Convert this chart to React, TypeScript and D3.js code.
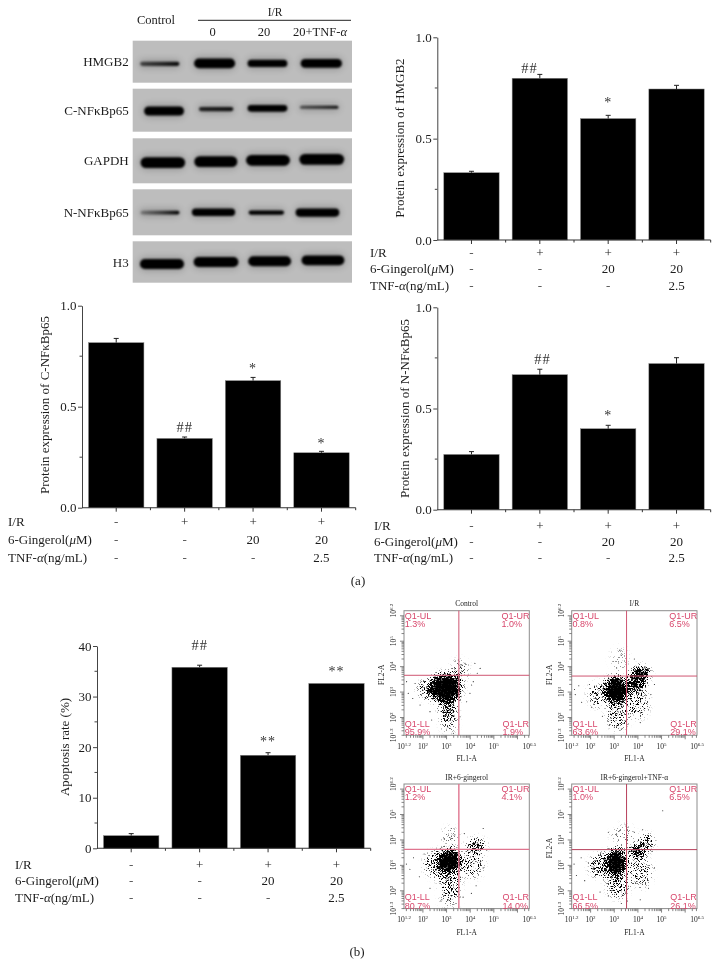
import { useEffect, useRef } from "react";
import * as d3 from "d3";

// group table under every bar chart
const irRow = ["-", "+", "+", "+"];
const gingerolRow = ["-", "-", "20", "20"];
const tnfRow = ["-", "-", "-", "2.5"];

// bar values and the top of their error bars
const hmgb2Values = [0.332, 0.798, 0.599, 0.745];
const hmgb2Errors = [0.339, 0.817, 0.615, 0.763];
const cNfValues = [0.817, 0.343, 0.629, 0.272];
const cNfErrors = [0.838, 0.35, 0.645, 0.279];
const nNfValues = [0.273, 0.667, 0.4, 0.722];
const nNfErrors = [0.287, 0.694, 0.417, 0.751];
const apopValues = [2.5, 35.8, 18.4, 32.6];
const apopErrors = [2.9, 36.2, 18.9, 32.6];

// significance marks: [bar position, text, y value]
const hmgb2Marks: [number, string, number][] = [[0.85, "##", 0.825], [2, "*", 0.655]];
const cNfMarks: [number, string, number][] = [[1, "##", 0.375], [2, "*", 0.665], [3, "*", 0.295]];
const nNfMarks: [number, string, number][] = [[1.04, "##", 0.72], [2, "*", 0.445]];
const apopMarks: [number, string, number][] = [[1, "##", 39.2], [2, "**", 20.3], [3, "**", 34]];

// western blot: [left %, right %, centre y %, thickness %, left darkness, right darkness] per lane
const blotNames = ["HMGB2", "C-NFκBp65", "GAPDH", "N-NFκBp65", "H3"];
const blotHmgb2 = [[3.4, 21.3, 55, 10, 0.6, 0.95], [28, 46.7, 54, 23, 1, 1], [52.4, 70.5, 54, 17, 1, 1], [76.6, 95.4, 54, 21, 1, 1]];
const blotCNf = [[5.2, 23.4, 52, 21, 1, 1], [30.2, 45.9, 47.3, 10, 0.8, 0.9], [52.4, 70.5, 45.7, 15.5, 1, 1], [76.3, 93.8, 43.4, 7, 0.55, 0.9]];
const blotGapdh = [[3.6, 23.9, 54, 24, 1, 1], [28.1, 47.7, 51.9, 24, 1, 1], [51.7, 71.7, 48.9, 24, 1, 1], [76, 96.4, 46.7, 24, 1, 1]];
const blotNNf = [[3.6, 21.3, 50.7, 8, 0.3, 1], [27, 46.7, 50, 16, 1, 1], [52.9, 69, 50.7, 9, 1, 1], [74.3, 94.2, 50.7, 17.5, 1, 1]];
const blotH3 = [[3.3, 23.4, 54.8, 24, 1, 1], [27.8, 48.2, 50, 24, 1, 1], [52.7, 72.2, 48.4, 24, 1, 1], [77, 96.5, 46, 24, 1, 1]];
const blotBands = [blotHmgb2, blotCNf, blotGapdh, blotNNf, blotH3];
const laneLabels = ["0", "20", "20+TNF-α"];

// flow plots, all in log10 units
const flowTitles = ["Control", "I/R", "IR+6-gingerol", "IR+6-gingerol+TNF-α"];
const flowUL = ["1.3%", "0.8%", "1.2%", "1.0%"];
const flowUR = ["1.0%", "6.5%", "4.1%", "6.5%"];
const flowLL = ["95.9%", "63.6%", "80.7%", "66.5%"];
const flowLR = ["1.9%", "29.1%", "14.0%", "26.1%"];
const flowGates = [[3.52, 3.66], [3.52, 3.63], [3.52, 3.63], [3.52, 3.62]];
// how dense the cloud looks: [log x, log y, radius x, radius y, density]
const flowControl = [[2.95, 3.15, 0.66, 0.56, 1], [3.25, 3.4, 0.32, 0.28, 1], [3.05, 2.5, 0.32, 0.52, 0.6], [2.4, 3.1, 0.58, 0.38, 0.4], [3.1, 1.9, 0.32, 0.45, 0.24], [3.55, 3.85, 0.35, 0.4, 0.2]];
const flowIR = [[3.09, 3.08, 0.5, 0.52, 1], [3.93, 3.41, 0.36, 0.44, 0.75], [4.15, 3.74, 0.32, 0.24, 1], [4, 2.56, 0.42, 0.55, 0.3], [3.16, 2.1, 0.42, 0.55, 0.32], [2.38, 2.9, 0.45, 0.45, 0.3], [3.23, 4.26, 0.35, 0.5, 0.1]];
const flowGingerol = [[3.12, 3.17, 0.46, 0.46, 1], [2.65, 3.04, 0.55, 0.5, 0.4], [3.15, 2.39, 0.42, 0.6, 0.36], [4.25, 3.76, 0.35, 0.27, 0.55], [4.06, 3.04, 0.48, 0.5, 0.26], [3.15, 4.09, 0.35, 0.4, 0.14], [3.15, 1.73, 0.42, 0.4, 0.14]];
const flowTnf = [[3.09, 3.11, 0.44, 0.52, 1], [2.52, 2.98, 0.55, 0.45, 0.4], [4, 3.57, 0.32, 0.26, 0.85], [4.36, 3.9, 0.27, 0.27, 0.55], [4.08, 2.72, 0.48, 0.58, 0.26], [3.16, 2.19, 0.42, 0.45, 0.36], [3.37, 4.16, 0.48, 0.4, 0.14]];
const flowClouds = [flowControl, flowIR, flowGingerol, flowTnf];
// stray events outside the clouds
const strayControl = [[1.31, 3.41], [1.38, 2.95], [1.57, 2.75], [1.67, 3.34], [1.88, 2.49], [2.3, 2.23], [2.37, 1.9], [3.5, 4.26], [3.64, 4.07], [3.78, 4.13], [4.2, 4.13], [4.42, 3.93], [4.3, 3.74], [4.06, 3.28], [3.99, 2.95], [3.85, 2.62], [3.57, 2.03], [3.15, 1.57], [2.79, 1.84], [3.29, 1.38], [3, 1.51], [3.92, 3.67], [4.13, 3.41]];
const strayIR = [[1.32, 3.1], [1.35, 2.9], [1.5, 3.25], [1.62, 2.6], [1.95, 3.3], [2.05, 2.4], [3.24, 4.65], [3.3, 4.45], [2.95, 4.2], [3.1, 3.95], [3.85, 4.3], [4.3, 3.95], [4.55, 3.85], [4.7, 3.3], [4.55, 2.9], [4.45, 2.3], [4.1, 1.8], [3.3, 1.55], [2.8, 1.7], [2.5, 2.05]];
const strayGingerol = [[1.3, 3.05], [1.45, 2.85], [1.6, 3.3], [1.85, 2.55], [2.05, 3.45], [2.3, 2.1], [3.2, 4.45], [3.35, 4.2], [2.9, 4.05], [3.75, 4.25], [4.55, 4.45], [4.7, 3.6], [4.55, 2.9], [4.25, 2.2], [3.7, 1.75], [3.4, 1.5], [2.8, 1.65], [4.05, 1.9]];
const strayTnf = [[1.3, 3.05], [1.4, 2.6], [1.6, 3.3], [1.75, 2.4], [2.75, 4.3], [5.05, 5.15], [3.1, 4.2], [3.5, 4.55], [3.85, 4.3], [4.2, 4.4], [4.6, 3.55], [4.7, 2.9], [4.45, 2.1], [4.1, 1.65], [3.55, 1.6], [2.75, 1.8], [2.4, 1.95], [3.3, 1.5]];
const flowStrays = [strayControl, strayIR, strayGingerol, strayTnf];
const flowXTicks = [[1.2, "1.2"], [2, "2"], [3, "3"], [4, "4"], [5, "5"], [6.5, "6.5"]] as [number, string][];
const flowYTicks = [[1.3, "1.3"], [2, "2"], [3, "3"], [4, "4"], [5, "5"], [6.2, "6.2"]] as [number, string][];

const SERIF = "'Liberation Serif', serif";
const SANS = "'Liberation Sans', sans-serif";
const INK = "#1c1c1c";

function rowLabel(g: any, x: number, y: number, before: string, greek: string, after: string) {
  const t = g.append("text").attr("x", x).attr("y", y).attr("font-size", 13).attr("fill", INK);
  t.append("tspan").text(before);
  if (greek) t.append("tspan").attr("font-style", "italic").text(greek);
  if (after) t.append("tspan").text(after);
}

function barPanel(svg: any, o: {
  left: number; right: number; top: number; bottom: number; max: number; yFormat: string;
  majors: number[]; minors: number[]; title: string; titleX: number; titleY: number;
  values: number[]; errors: number[]; marks: [number, string, number][];
  rowX: number; rows: number[];
}) {
  const g = svg.append("g");
  const x = d3.scaleBand<number>().domain([0, 1, 2, 3]).range([o.left, o.right]).paddingInner(0.19).paddingOuter(0.095);
  const y = d3.scaleLinear().domain([0, o.max]).range([o.bottom, o.top]);

  // Bars
  o.values.forEach((v, i) => {
    g.append("rect")
      .attr("x", x(i)!).attr("y", y(v))
      .attr("width", x.bandwidth()).attr("height", o.bottom - y(v))
      .attr("fill", "#000").attr("stroke", "#8a8a8a").attr("stroke-width", 0.5);
    const cx = x(i)! + x.bandwidth() / 2;
    if (o.errors[i] > v) {
      g.append("line").attr("x1", cx).attr("x2", cx).attr("y1", y(v)).attr("y2", y(o.errors[i]))
        .attr("stroke", "#222").attr("stroke-width", 1);
      g.append("line").attr("x1", cx - 2.5).attr("x2", cx + 2.5).attr("y1", y(o.errors[i])).attr("y2", y(o.errors[i]))
        .attr("stroke", "#222").attr("stroke-width", 1);
    }
  });

  // Y axis
  const yAxis = g.append("g").attr("transform", `translate(${o.left},0)`)
    .call(d3.axisLeft(y).tickValues(o.majors).tickSize(4).tickSizeOuter(0).tickPadding(1.5).tickFormat(d3.format(o.yFormat) as any));
  yAxis.selectAll("text").attr("font-size", 13).attr("font-family", SERIF).attr("fill", INK);
  yAxis.selectAll("line,path").attr("stroke", "#444");
  o.minors.forEach((v) => {
    g.append("line").attr("x1", o.left - 2.5).attr("x2", o.left).attr("y1", y(v)).attr("y2", y(v)).attr("stroke", "#444");
  });

  // X axis: tick at each bar, small tick between bars
  g.append("line").attr("x1", o.left).attr("x2", o.right).attr("y1", o.bottom).attr("y2", o.bottom).attr("stroke", "#333").attr("stroke-width", 1.1);
  x.domain().forEach((i) => {
    const cx = x(i)! + x.bandwidth() / 2;
    g.append("line").attr("x1", cx).attr("x2", cx).attr("y1", o.bottom).attr("y2", o.bottom + 4).attr("stroke", "#333");
    const edge = o.left + x.step() * (i + 1);
    g.append("line").attr("x1", edge).attr("x2", edge).attr("y1", o.bottom).attr("y2", o.bottom + 2.5).attr("stroke", "#333");
  });

  // Axis title
  g.append("text")
    .attr("transform", `translate(${o.titleX},${o.titleY}) rotate(-90)`)
    .attr("text-anchor", "middle").attr("font-size", 13).attr("fill", INK).text(o.title);

  // Significance marks
  o.marks.forEach(([i, txt, at]) => {
    g.append("text").attr("x", o.left + x.step() * (i + 0.5)).attr("y", y(at))
      .attr("text-anchor", "middle").attr("font-size", txt[0] === "#" ? 14.5 : 14).attr("letter-spacing", 1).attr("fill", "#333").text(txt);
  });

  // Group table
  rowLabel(g, o.rowX, o.rows[0] + 4, "I/R", "", "");
  rowLabel(g, o.rowX, o.rows[1] + 4, "6-Gingerol(", "μ", "M)");
  rowLabel(g, o.rowX, o.rows[2] + 4, "TNF-", "α", "(ng/mL)");
  [irRow, gingerolRow, tnfRow].forEach((row, r) => {
    row.forEach((txt, i) => {
      g.append("text").attr("x", x(i)! + x.bandwidth() / 2).attr("y", o.rows[r] + 4)
        .attr("text-anchor", "middle").attr("font-size", 13).attr("fill", txt === "-" ? "#555" : INK).text(txt);
    });
  });
}

function blotPanel(svg: any, defs: any) {
  const g = svg.append("g");
  const x = d3.scaleLinear().domain([0, 100]).range([132.7, 352]);
  const rowTops = [40.7, 88.7, 138.3, 189.3, 241.3];
  const rowBottoms = [82.7, 131.7, 183.3, 235.3, 282.7];

  defs.append("filter").attr("id", "band-soft").attr("x", "-10%").attr("y", "-60%").attr("width", "120%").attr("height", "220%")
    .append("feGaussianBlur").attr("stdDeviation", 0.9);
  defs.append("filter").attr("id", "band-halo").attr("x", "-20%").attr("y", "-150%").attr("width", "140%").attr("height", "400%")
    .append("feGaussianBlur").attr("stdDeviation", 3.5);

  blotNames.forEach((name, r) => {
    const y = d3.scaleLinear().domain([0, 100]).range([rowTops[r], rowBottoms[r]]);
    g.append("rect").attr("x", x(0)).attr("y", y(0)).attr("width", x(100) - x(0)).attr("height", y(100) - y(0)).attr("fill", "#bdbdbd");
    g.append("text").attr("x", 128.7).attr("y", (y(0) + y(100)) / 2 + 4.5)
      .attr("text-anchor", "end").attr("font-size", 13).attr("fill", INK).text(name);
    blotBands[r].forEach(([l, rt, cy, th, dl, dr], lane) => {
      const id = `band-${r}-${lane}`;
      const grad = defs.append("linearGradient").attr("id", id);
      grad.append("stop").attr("offset", "0%").attr("stop-color", "#050505").attr("stop-opacity", dl);
      grad.append("stop").attr("offset", "55%").attr("stop-color", "#050505").attr("stop-opacity", (dl + dr) / 2);
      grad.append("stop").attr("offset", "100%").attr("stop-color", "#050505").attr("stop-opacity", dr);
      const h = y(th) - y(0);
      g.append("rect").attr("x", x(l) - 1).attr("y", y(cy) - h / 2 - 2).attr("width", x(rt) - x(l) + 2).attr("height", h + 4)
        .attr("rx", h / 2 + 2).attr("fill", "#000").attr("opacity", 0.2).attr("filter", "url(#band-halo)");
      g.append("rect").attr("x", x(l)).attr("y", y(cy) - h / 2).attr("width", x(rt) - x(l)).attr("height", h)
        .attr("rx", h / 2).attr("fill", `url(#${id})`).attr("filter", "url(#band-soft)");
    });
  });

  // Lane header
  g.append("text").attr("x", 156).attr("y", 24).attr("text-anchor", "middle").attr("font-size", 12.5).attr("fill", INK).text("Control");
  g.append("text").attr("x", 275).attr("y", 16).attr("text-anchor", "middle").attr("font-size", 11.5).attr("fill", INK).text("I/R");
  g.append("line").attr("x1", 198).attr("x2", 351).attr("y1", 20.3).attr("y2", 20.3).attr("stroke", "#222");
  [212.7, 264, 320].forEach((cx, i) => {
    const t = g.append("text").attr("x", cx).attr("y", 35.5).attr("text-anchor", "middle").attr("font-size", 12.5).attr("fill", INK);
    const label = laneLabels[i];
    if (label.endsWith("α")) {
      t.append("tspan").text(label.slice(0, -1));
      t.append("tspan").attr("font-style", "italic").text("α");
    } else t.text(label);
  });
}

function flowPanel(svg: any, i: number, left: number, top: number, showYTitle: boolean, gateColor: string, gateWidth: number) {
  const W = 125.3, H = 124.6;
  const g = svg.append("g");
  const x = d3.scaleLinear().domain([1.2, 6.5]).range([left, left + W]);
  const y = d3.scaleLinear().domain([1.3, 6.2]).range([top + H, top]);

  // Density clouds go through the grain filter, which only adds texture
  const clip = `flow-clip-${i}`;
  svg.select("defs").append("clipPath").attr("id", clip)
    .append("rect").attr("x", left).attr("y", top).attr("width", W).attr("height", H);
  const inner = g.append("g").attr("clip-path", `url(#${clip})`);
  const cloud = inner.append("g").attr("filter", "url(#flow-grain)");
  flowClouds[i].forEach(([cx, cy, rx, ry, d]) => {
    cloud.append("ellipse").attr("cx", x(cx)).attr("cy", y(cy))
      .attr("rx", x(rx) - x(0)).attr("ry", y(0) - y(ry))
      .attr("fill", "#000").attr("fill-opacity", d);
  });
  flowStrays[i].forEach(([cx, cy]) => {
    inner.append("circle").attr("cx", x(cx)).attr("cy", y(cy)).attr("r", 0.55).attr("fill", "#222");
  });

  // Frame and log ticks
  g.append("rect").attr("x", left).attr("y", top).attr("width", W).attr("height", H).attr("fill", "none").attr("stroke", "#8c8c8c").attr("stroke-width", 1);
  const minors = d3.range(1, 7).flatMap((d) => d3.range(1, 10).map((m) => d + Math.log10(m)));
  minors.filter((v) => v >= 1.2 && v <= 6.5).forEach((v) => {
    const major = Number.isInteger(v);
    g.append("line").attr("x1", x(v)).attr("x2", x(v)).attr("y1", top + H).attr("y2", top + H + (major ? 4 : 2.5)).attr("stroke", "#666").attr("stroke-width", 0.8);
  });
  minors.filter((v) => v >= 1.3 && v <= 6.2).forEach((v) => {
    const major = Number.isInteger(v);
    g.append("line").attr("x1", left).attr("x2", left - (major ? 4 : 2.5)).attr("y1", y(v)).attr("y2", y(v)).attr("stroke", "#666").attr("stroke-width", 0.8);
  });

  // Gate lines
  const [gx, gy] = flowGates[i];
  g.append("line").attr("x1", x(gx)).attr("x2", x(gx)).attr("y1", top).attr("y2", top + H).attr("stroke", gateColor).attr("stroke-width", gateWidth);
  g.append("line").attr("x1", left).attr("x2", left + W).attr("y1", y(gy)).attr("y2", y(gy)).attr("stroke", gateColor).attr("stroke-width", gateWidth);

  // Quadrant texts
  const corner = (tx: number, ty: number, name: string, pct: string) => {
    [name, pct].forEach((s, k) => {
      g.append("text").attr("x", tx).attr("y", ty + k * 8.4).attr("font-family", SANS).attr("font-size", 9).attr("fill", "#d8476c").text(s);
    });
  };
  corner(left + 0.8, top + 8, "Q1-UL", flowUL[i]);
  corner(left + 97.6, top + 8, "Q1-UR", flowUR[i]);
  corner(left + 0.8, top + 116.2, "Q1-LL", flowLL[i]);
  corner(left + 98.6, top + 116.2, "Q1-LR", flowLR[i]);

  // Titles
  g.append("text").attr("x", left + W / 2).attr("y", top - 4.5).attr("text-anchor", "middle").attr("font-size", 7.5).attr("fill", INK).text(flowTitles[i]);
  g.append("text").attr("x", left + W / 2).attr("y", top + H + 26).attr("text-anchor", "middle").attr("font-size", 7.5).attr("fill", INK).text("FL1-A");
  if (showYTitle) {
    g.append("text").attr("transform", `translate(${left - 20},${top + 64}) rotate(-90)`).attr("text-anchor", "middle").attr("font-size", 7.5).attr("fill", INK).text("FL2-A");
  }

  // Power-of-ten tick labels
  const power = (t: any, exp: string) => {
    t.append("tspan").text("10");
    t.append("tspan").attr("font-size", 5).attr("dy", -3).text(exp);
  };
  flowXTicks.forEach(([v, exp]) => {
    power(g.append("text").attr("x", x(v)).attr("y", top + H + 13.5).attr("text-anchor", "middle").attr("font-size", 7.5).attr("fill", INK), exp);
  });
  flowYTicks.forEach(([v, exp]) => {
    power(g.append("text").attr("transform", `translate(${left - 8},${y(v)}) rotate(-90)`).attr("text-anchor", "middle").attr("font-size", 7.5).attr("fill", INK), exp);
  });
}

export default function App() {
  const ref = useRef<SVGSVGElement>(null);

  useEffect(() => {
    if (!ref.current) return;
    const svg = d3.select(ref.current);
    svg.selectAll("*").remove();
    svg.style("font-family", SERIF);
    const defs = svg.append("defs");

    // Grain for the flow clouds: blurred density against a noise threshold
    const grain = defs.append("filter").attr("id", "flow-grain")
      .attr("filterUnits", "userSpaceOnUse").attr("x", 380).attr("y", 590).attr("width", 339).attr("height", 340)
      .attr("color-interpolation-filters", "sRGB");
    grain.append("feTurbulence").attr("type", "fractalNoise").attr("baseFrequency", 1.3).attr("numOctaves", 3).attr("seed", 4).attr("result", "noise");
    grain.append("feColorMatrix").attr("in", "noise").attr("type", "matrix")
      .attr("values", "0 0 0 0 0  0 0 0 0 0  0 0 0 0 0  3 0 0 0 -1").attr("result", "speck");
    grain.append("feGaussianBlur").attr("in", "SourceAlpha").attr("stdDeviation", 3).attr("result", "density");
    grain.append("feComposite").attr("in", "density").attr("in2", "speck").attr("operator", "arithmetic")
      .attr("k1", 0).attr("k2", 4.4).attr("k3", -3.5).attr("k4", 0).attr("result", "dots");
    grain.append("feGaussianBlur").attr("in", "dots").attr("stdDeviation", 0.2);

    blotPanel(svg, defs);

    barPanel(svg, {
      left: 437.3, right: 710.7, top: 37.3, bottom: 240, max: 1, yFormat: ".1f",
      majors: [0, 0.5, 1], minors: [0.25, 0.75], title: "Protein expression of HMGB2", titleX: 404, titleY: 138,
      values: hmgb2Values, errors: hmgb2Errors, marks: hmgb2Marks, rowX: 370, rows: [253.3, 269.3, 285.7],
    });
    barPanel(svg, {
      left: 82, right: 355.7, top: 305.7, bottom: 507.7, max: 1, yFormat: ".1f",
      majors: [0, 0.5, 1], minors: [0.25, 0.75], title: "Protein expression of C-NFκBp65", titleX: 49, titleY: 405,
      values: cNfValues, errors: cNfErrors, marks: cNfMarks, rowX: 8, rows: [521.7, 540, 557.7],
    });
    barPanel(svg, {
      left: 437.3, right: 710.7, top: 307.3, bottom: 509.7, max: 1, yFormat: ".1f",
      majors: [0, 0.5, 1], minors: [0.25, 0.75], title: "Protein expression of N-NFκBp65", titleX: 408.5, titleY: 408.5,
      values: nNfValues, errors: nNfErrors, marks: nNfMarks, rowX: 374, rows: [525.7, 541.7, 558.3],
    });
    barPanel(svg, {
      left: 97, right: 370.7, top: 646, bottom: 848.3, max: 40, yFormat: "d",
      majors: [0, 10, 20, 30, 40], minors: [5, 15, 25, 35], title: "Apoptosis rate (%)", titleX: 69, titleY: 747,
      values: apopValues, errors: apopErrors, marks: apopMarks, rowX: 15, rows: [864.7, 881, 897.5],
    });

    flowPanel(svg, 0, 404, 610.7, true, "#cf5672", 1);
    flowPanel(svg, 1, 571.7, 610.7, true, "#cf5672", 1);
    flowPanel(svg, 2, 404, 784, false, "#e0758f", 1.4);
    flowPanel(svg, 3, 571.7, 784, true, "#b8405c", 1);

    svg.append("text").attr("x", 358).attr("y", 585).attr("text-anchor", "middle").attr("font-size", 13).attr("fill", INK).text("(a)");
    svg.append("text").attr("x", 357).attr("y", 956).attr("text-anchor", "middle").attr("font-size", 13).attr("fill", INK).text("(b)");
  }, []);

  // opacity just under 1 keeps the text antialiasing grey instead of coloured
  return <svg ref={ref} width={719} height={979} style={{ position: "absolute", left: 0, top: 0, opacity: 0.999 }} />;
}
